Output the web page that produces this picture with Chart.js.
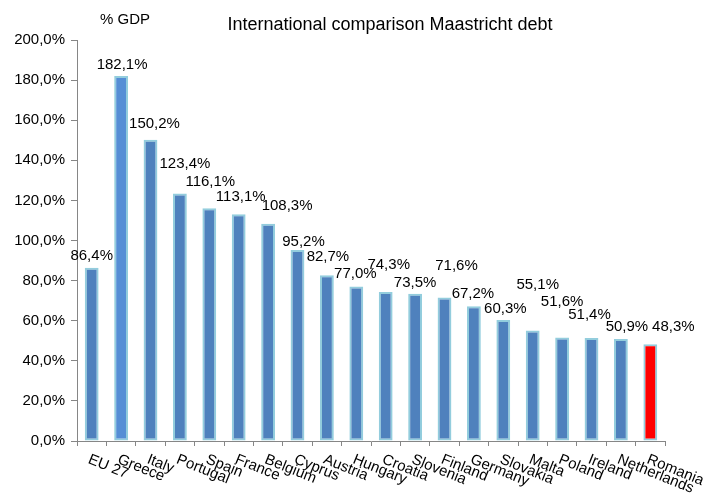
<!DOCTYPE html>
<html>
<head>
<meta charset="utf-8">
<script src="https://cdn.jsdelivr.net/npm/chart.js@4/dist/chart.umd.min.js"></script>
<style>
  html, body { margin: 0; padding: 0; background: #fff; }
</style>
</head>
<body>
<canvas id="chart" width="706" height="493"></canvas>
<script>
const countries = ['EU 27', 'Greece', 'Italy', 'Portugal', 'Spain', 'France', 'Belgium', 'Cyprus', 'Austria', 'Hungary',
    'Croatia', 'Slovenia', 'Finland', 'Germany', 'Slovakia', 'Malta', 'Poland', 'Ireland', 'Netherlands', 'Romania'];
const debtPct = [86.4, 182.1, 150.2, 123.4, 116.1, 113.1, 108.3, 95.2, 82.7, 77.0,
    74.3, 73.5, 71.6, 67.2, 60.3, 55.1, 51.6, 51.4, 50.9, 48.3];
const yTickValues = [0, 20, 40, 60, 80, 100, 120, 140, 160, 180, 200];

const FONT = "'Liberation Sans', Arial, sans-serif";
const AXIS_GREY = '#868686';

// fill per bar: Greece a touch lighter, Romania highlighted in red
const barFill = countries.map(c => c === 'Romania' ? '#FF0000' : (c === 'Greece' ? '#558ED5' : '#4F81BD'));

const fmtPct = v => v.toFixed(1).replace('.', ',') + '%';

// label nudges (dx, dy from bar top) roughly as placed in the original sheet
const labelNudge = [[0, -12], [1, -11], [4, -16], [5, -30], [1, -26], [2, -17], [19, -18], [6, -8], [1, -18], [-1, -13],
    [3, -27], [0, -11], [12, -32], [-1, -12], [2, -11], [5, -46], [0, -36], [-2, -23], [6, -12], [23, -17]];

const decorPlugin = {
    id: 'decor',
    afterDatasetsDraw(chart) {
        const ctx = chart.ctx;
        const meta = chart.getDatasetMeta(0);
        ctx.save();
        ctx.fillStyle = '#000';
        ctx.font = '15px ' + FONT;
        ctx.textAlign = 'center';
        ctx.textBaseline = 'middle';
        meta.data.forEach((bar, i) => {
            const n = labelNudge[i] || [0, -12];
            ctx.fillText(fmtPct(debtPct[i]), bar.x + n[0], bar.y + n[1]);
        });

        // rotated category labels
        const xs = chart.scales.x;
        const base = chart.chartArea.bottom;
        ctx.font = '15px ' + FONT;
        ctx.textAlign = 'left';
        ctx.textBaseline = 'top';
        countries.forEach((name, i) => {
            const x = xs.getPixelForValue(i);
            ctx.save();
            ctx.translate(x, base + 11);
            ctx.rotate(22 * Math.PI / 180);
            ctx.fillText(name, 0, 0);
            ctx.restore();
        });

        // title and unit
        ctx.textAlign = 'center';
        ctx.textBaseline = 'middle';
        ctx.font = '18px ' + FONT;
        ctx.fillText('International comparison Maastricht debt', 390, 25);
        ctx.font = '15px ' + FONT;
        ctx.fillText('% GDP', 125, 20);
        ctx.restore();
    }
};

new Chart(document.getElementById('chart'), {
    type: 'bar',
    data: {
        labels: countries,
        datasets: [{
            data: debtPct,
            backgroundColor: barFill,
            borderColor: '#93CDDD',
            borderWidth: 2,
            borderSkipped: false,
            barPercentage: 0.47,
            categoryPercentage: 1.0
        }]
    },
    options: {
        responsive: false,
        devicePixelRatio: 1,
        animation: false,
        layout: { padding: { top: 40, right: 41, left: 0, bottom: 0 } },
        plugins: {
            legend: { display: false },
            tooltip: { enabled: false },
            title: { display: false }
        },
        scales: {
            x: {
                grid: { display: true, drawOnChartArea: false, drawTicks: true, tickLength: 5, color: AXIS_GREY, offset: true },
                border: { color: AXIS_GREY, width: 1 },
                ticks: { display: false },
                afterFit(scale) { scale.height = 52; }
            },
            y: {
                min: 0,
                max: 200,
                grid: { display: true, drawOnChartArea: false, drawTicks: true, tickLength: 6, color: AXIS_GREY },
                border: { color: AXIS_GREY, width: 1 },
                afterBuildTicks(scale) { scale.ticks = yTickValues.map(v => ({ value: v })); },
                ticks: {
                    color: '#000',
                    padding: 6,
                    font: { family: FONT, size: 15 },
                    callback: v => fmtPct(v)
                },
                afterFit(scale) { scale.width = 77; }
            }
        }
    },
    plugins: [decorPlugin]
});
</script>
</body>
</html>
